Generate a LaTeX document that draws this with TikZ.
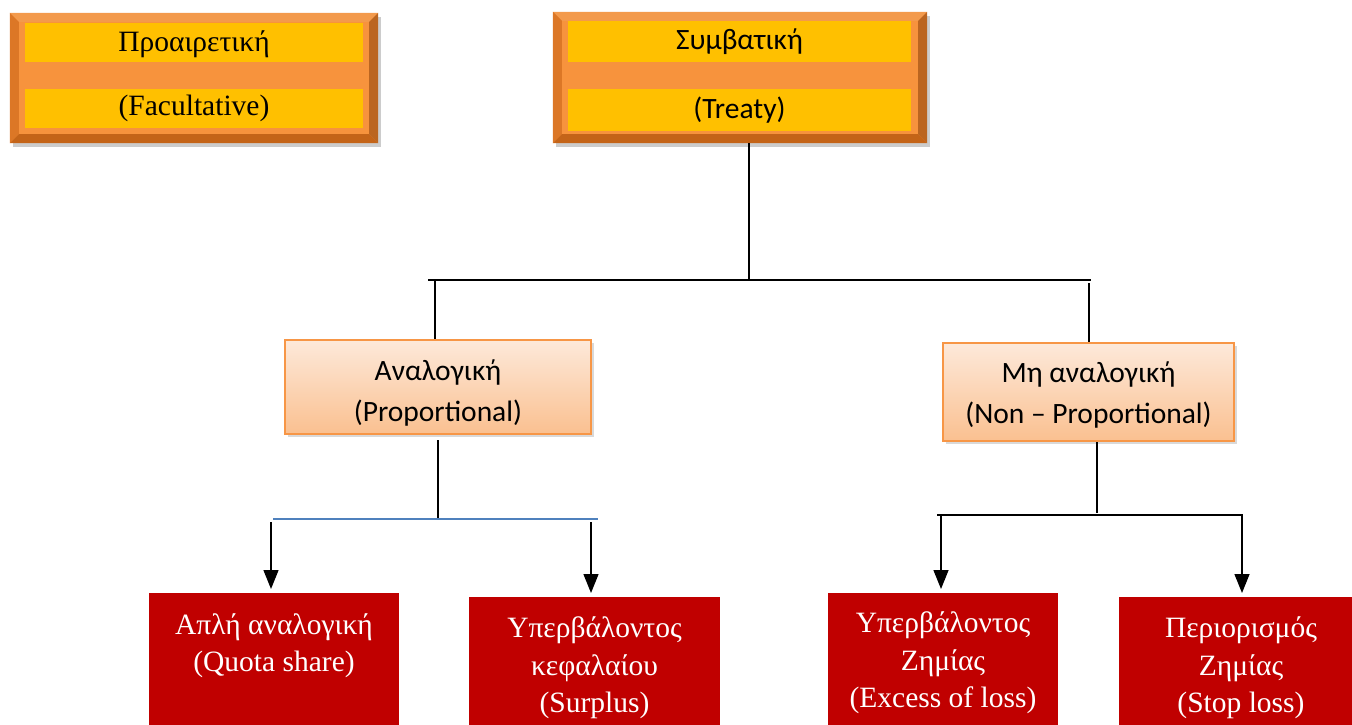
\documentclass[tikz,border=0pt]{standalone}
\usepackage{fontspec}
\setmainfont{Liberation Serif}
\newfontfamily\calibrifont{Carlito}
\usetikzlibrary{calc,shadows,arrows.meta}
\definecolor{bevelMid}{HTML}{F7933D}
\definecolor{bevelLight}{HTML}{F39A4C}
\definecolor{bevelDark}{HTML}{C46418}
\definecolor{bevelSide}{HTML}{DC7726}
\definecolor{bandYellow}{HTML}{FFC000}
\definecolor{peachTop}{HTML}{FDE9DA}
\definecolor{peachBot}{HTML}{FAC090}
\definecolor{peachEdge}{HTML}{F79646}
\definecolor{boxRed}{HTML}{C00000}
\definecolor{splitBlue}{HTML}{4F81BD}

% bevelled frame drawn over a plain orange node
\newcommand\bevelframe[1]{%
  \fill[bevelLight] (#1.north west) -- (#1.north east) -- ($(#1.north east)+(-9,9)$) -- ($(#1.north west)+(9,9)$) -- cycle;
  \fill[bevelSide] (#1.north west) -- ($(#1.north west)+(9,9)$) -- ($(#1.south west)+(9,-9)$) -- (#1.south west) -- cycle;
  \fill[bevelDark] (#1.south west) -- ($(#1.south west)+(9,-9)$) -- ($(#1.south east)+(-9,-9)$) -- (#1.south east) -- cycle;
  \fill[bevelSide!85!black] (#1.north east) -- ($(#1.north east)+(-9,9)$) -- ($(#1.south east)+(-9,-9)$) -- (#1.south east) -- cycle;
}

\begin{document}
\begin{tikzpicture}[x=1pt,y=-1pt,
  orangebox/.style={draw=none, fill=bevelMid, inner sep=0pt,
    drop shadow={opacity=0.4, shadow xshift=3pt, shadow yshift=-4pt}},
  band/.style={fill=bandYellow, inner sep=0pt, minimum width=#1},
  bandtext/.style={inner sep=0pt, font=\fontsize{29.5}{34}\selectfont},
  sansbandtext/.style={inner sep=0pt, font=\calibrifont\fontsize{29.5}{34}\selectfont},
  peachbox/.style={draw=peachEdge, line width=1.5pt, top color=peachTop, bottom color=peachBot,
    inner sep=0pt, drop shadow={opacity=0.3, shadow xshift=3pt, shadow yshift=-3pt}},
  peachtext/.style={align=center, inner sep=0pt, font=\calibrifont\fontsize{29.5}{41}\selectfont},
  redbox/.style={fill=boxRed, inner sep=0pt, anchor=north west},
  redtext/.style={text=white, align=center, inner sep=0pt, font=\fontsize{29.5}{37.5}\selectfont},
  link/.style={draw=black, line width=1.4pt},
  arrowlink/.style={link, -{Triangle[width=15pt,length=19pt]}, shorten >=4pt}
]
\useasboundingbox (0,0) rectangle (1352,724);
\clip (0,0) rectangle (1352,724);

% --- top level boxes ---
\node[orangebox, minimum width=368pt, minimum height=130pt] (fac) at (194,78) {};
\bevelframe{fac}
\node[band=338pt, minimum height=39pt] (facA) at (194,42.5) {};
\node[band=338pt, minimum height=39pt] (facB) at (194,108.5) {};
\node[bandtext] (facAT) at (194,44.5) {Προαιρετική};
\node[bandtext] (facBT) at (194,108.5) {(Facultative)};

\node[orangebox, minimum width=374pt, minimum height=131pt] (tre) at (740,77.5) {};
\bevelframe{tre}
\node[band=343pt, minimum height=41pt] (treA) at (739.5,41.5) {};
\node[band=343pt, minimum height=42pt] (treB) at (739.5,110) {};
\node[sansbandtext] (treAT) at (739.5,42) {Συμβατική};
\node[sansbandtext] (treBT) at (739.5,110) {(Treaty)};

% --- second level ---
\node[peachbox, minimum width=306pt, minimum height=94pt] (prop) at (438,387) {};
\node[peachtext] (propT) at (438,393) {Αναλογική\\(Proportional)};
\node[peachbox, minimum width=291pt, minimum height=98pt] (nonp) at (1088.5,392) {};
\node[peachtext] (nonpT) at (1088.5,395) {Μη αναλογική\\(Non – Proportional)};

% --- third level ---
\node[redbox, minimum width=250pt, minimum height=160pt] (qs) at (149,593) {};
\node[redbox, minimum width=251pt, minimum height=160pt] (sp) at (469,597) {};
\node[redbox, minimum width=230pt, minimum height=160pt] (xl) at (828,593) {};
\node[redbox, minimum width=240pt, minimum height=160pt] (sl) at (1119,597) {};
\node[redtext] (qsT) at (274,645.5) {Απλή αναλογική\\(Quota share)};
\node[redtext] (spT) at (594.5,668) {Υπερβάλοντος\\κεφαλαίου\\(Surplus)};
\node[redtext] (xlT) at (943,663) {Υπερβάλοντος\\Ζημίας\\(Excess of loss)};
\node[redtext] (slT) at (1241,668) {Περιορισμός\\Ζημίας\\(Stop loss)};

% --- connectors: treaty to its two branches ---
\coordinate (treFoot) at (749,143);
\coordinate (busM) at (749,280);
\coordinate (busL) at (428,280);
\coordinate (busR) at (1091,280);
\coordinate (dropL) at (435,280);
\coordinate (dropR) at (1089,283);
\draw[link] (treFoot) -- (busM);
\draw[link] (busL) -- (busR);
\draw[link] (dropL) -- (dropL |- prop.north);
\draw[link] (dropR) -- (dropR |- nonp.north);

% --- proportional branch ---
\coordinate (pFoot) at (438,440);
\coordinate (pBus) at (438,519);
\coordinate (pBusL) at (273,519);
\coordinate (pBusR) at (598,519);
\coordinate (pArrL) at (271,522);
\coordinate (pArrR) at (591,522);
\draw[link] (pFoot) -- (pBus);
\draw[draw=splitBlue, line width=1.6pt] (pBusL) -- (pBusR);
\draw[arrowlink] (pArrL) -- (pArrL |- qs.north);
\draw[arrowlink] (pArrR) -- (pArrR |- sp.north);

% --- non-proportional branch ---
\coordinate (nFoot) at (1097,442);
\coordinate (nBus) at (1097,513);
\coordinate (nBusL) at (937,515);
\coordinate (nBusR) at (1243,515);
\coordinate (nArrL) at (941,516);
\coordinate (nArrR) at (1242,515);
\draw[link] (nFoot) -- (nBus);
\draw[link] (nBusL) -- (nBusR);
\draw[arrowlink] (nArrL) -- (nArrL |- xl.north);
\draw[arrowlink] (nArrR) -- (nArrR |- sl.north);
\end{tikzpicture}
\end{document}
